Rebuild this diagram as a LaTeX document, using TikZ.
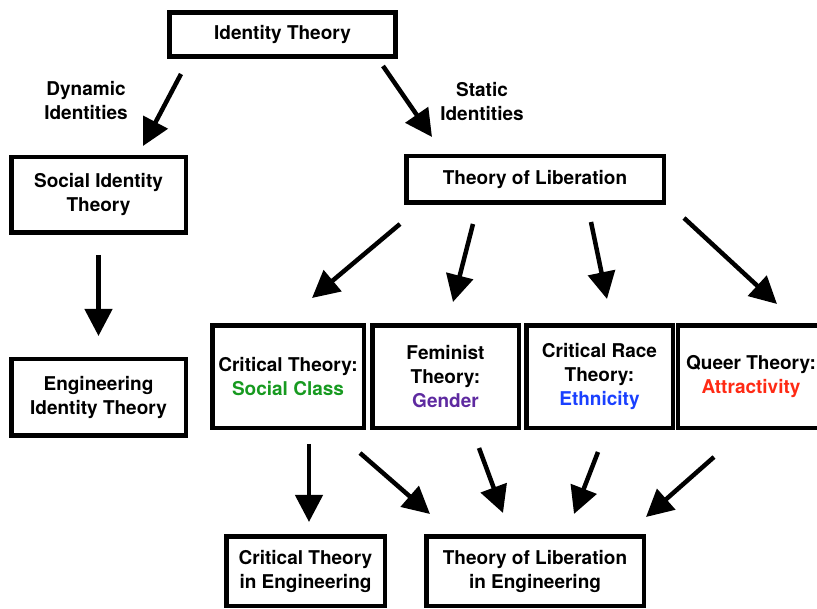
\documentclass[tikz,border=0pt]{standalone}
\usepackage{fontspec}
\setmainfont{TeX Gyre Heros}
\usepackage{tikz}
\usetikzlibrary{arrows.meta,positioning}

\definecolor{classgreen}{HTML}{179A20}
\definecolor{genderpurple}{HTML}{5E2AA0}
\definecolor{raceblue}{HTML}{1A40FF}
\definecolor{queerred}{HTML}{FF2A14}

\tikzset{
	box/.style={draw,line width=4.5pt,align=center,inner sep=0pt,
		font=\fontsize{19}{24}\selectfont\bfseries},
	lbl/.style={align=center,font=\fontsize{19}{24}\selectfont\bfseries},
	arr/.style={line width=4.5pt,-{Triangle[width=27pt,length=27pt]}}
}

\begin{document}
	\begin{tikzpicture}[x=1pt,y=-1pt]
		\useasboundingbox (0,0) rectangle (817,609);
		% boxes
		\node[box,minimum width=226pt,minimum height=44pt] (idt) at (282.5,34.5) {Identity Theory};
		\node[box,minimum width=174.5pt,minimum height=75.5pt] (sit) at (98.5,195) {Social Identity\\Theory};
		\node[box,minimum width=257.5pt,minimum height=46.5pt] (tol) at (535,179.5) {Theory of Liberation};
		\node[box,minimum width=174.5pt,minimum height=76.5pt] (eit) at (98.5,397.5) {Engineering\\Identity Theory};
		\node[box,minimum width=151.5pt,minimum height=102.5pt] (ct) at (288,377) {Critical Theory:\\\textcolor{classgreen}{Social Class}};
		\node[box,minimum width=146.5pt,minimum height=102.5pt] (ft) at (445.5,377) {Feminist\\Theory:\\\textcolor{genderpurple}{Gender}};
		\node[box,minimum width=146.5pt,minimum height=102.5pt] (crt) at (599.5,377) {Critical Race\\Theory:\\\textcolor{raceblue}{Ethnicity}};
		\node[box,minimum width=146pt,minimum height=102.5pt] (qt) at (751,377) {Queer Theory:\\\textcolor{queerred}{Attractivity}};
		\node[box,minimum width=158.5pt,minimum height=69.5pt] (cte) at (305.5,571) {Critical Theory\\in Engineering};
		\node[box,minimum width=217.5pt,minimum height=69.5pt] (tole) at (535,571) {Theory of Liberation\\in Engineering};
		
		\node[lbl] (dyn) at (86,101) {Dynamic\\Identities};
		\node[lbl] (stat) at (482,102) {Static\\Identities};
		
		% arrow ends
		\coordinate (idt-l) at (181,74);   \coordinate (sit-t) at (143,146);
		\coordinate (idt-r) at (383,66);   \coordinate (tol-t) at (432,137);
		\coordinate (sit-b) at (98.5,255); \coordinate (eit-t) at (98.5,336);
		\coordinate (tol-1) at (400,224);  \coordinate (ct-t) at (312,298);
		\coordinate (tol-2) at (473,224);  \coordinate (ft-t) at (453,302);
		\coordinate (tol-3) at (591,222);  \coordinate (crt-t) at (607,299);
		\coordinate (tol-4) at (684,218);  \coordinate (qt-t) at (777,304);
		\coordinate (ct-b) at (309,444);   \coordinate (cte-t) at (309,522);
		\coordinate (ct-r) at (360,453);   \coordinate (tole-1) at (430,514);
		\coordinate (ft-b) at (479,448);   \coordinate (tole-2) at (503,513);
		\coordinate (crt-b) at (598,452);  \coordinate (tole-3) at (574,514);
		\coordinate (qt-b) at (714,457);   \coordinate (tole-4) at (646,517);
		
		\path[arr]
		(idt-l) edge (sit-t)
		(idt-r) edge (tol-t)
		(sit-b) edge (eit-t)
		(tol-1) edge (ct-t)
		(tol-2) edge (ft-t)
		(tol-3) edge (crt-t)
		(tol-4) edge (qt-t)
		(ct-b) edge (cte-t)
		(ct-r) edge (tole-1)
		(ft-b) edge (tole-2)
		(crt-b) edge (tole-3)
		(qt-b) edge (tole-4);
		
	\end{tikzpicture}
\end{document}
